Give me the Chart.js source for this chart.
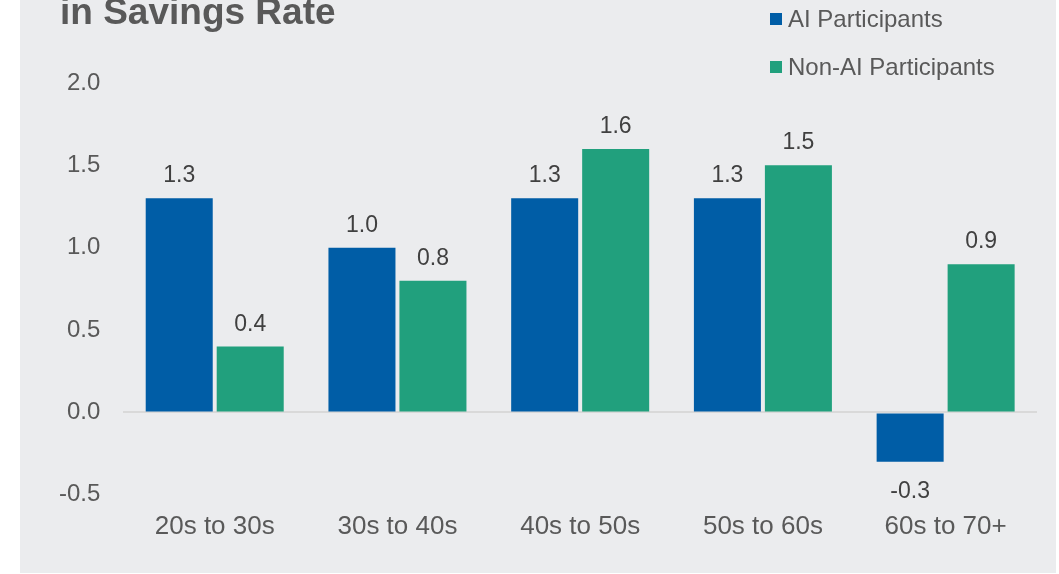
<!DOCTYPE html>
<html>
<head>
<meta charset="utf-8">
<script src="https://cdn.jsdelivr.net/npm/chart.js@4.4.1/dist/chart.umd.min.js"></script>
<style>
  html, body { margin: 0; padding: 0; background: #ffffff; }
  #panel {
    position: absolute; left: 20px; top: 0;
    width: 1036px; height: 573px;
    background: #ebecee;
  }
  #canvas1 { display: block; }
</style>
</head>
<body>
<div id="panel"><canvas id="canvas1" width="1036" height="573"></canvas></div>
<script>
// savings rate change by age band
var ageBands = ["20s to 30s", "30s to 40s", "40s to 50s", "50s to 60s", "60s to 70+"];
var aiValues = [1.3, 1.0, 1.3, 1.3, -0.3];
var nonAiValues = [0.4, 0.8, 1.6, 1.5, 0.9];
var seriesNames = ["AI Participants", "Non-AI Participants"];
var titleText = "in Savings Rate";

var FONT = "'Liberation Sans', Arial, sans-serif";
var BLUE = "#005da6";
var GREEN = "#21a07d";

// title, legend and value labels drawn straight onto the canvas
var decor = {
  id: "decor",
  afterDraw: function (chart) {
    var ctx = chart.ctx;
    ctx.save();

    ctx.fillStyle = "#595959";
    ctx.font = "bold 37px " + FONT;
    ctx.textAlign = "left";
    ctx.textBaseline = "alphabetic";
    ctx.fillText(titleText, 40, 24);

    ctx.font = "24px " + FONT;
    ctx.textBaseline = "middle";
    chart.data.datasets.forEach(function (ds, i) {
      var y = 19 + i * 48;
      ctx.fillStyle = ds.backgroundColor;
      ctx.fillRect(750, y - 6, 12, 12);
      ctx.fillStyle = "#595959";
      ctx.fillText(ds.label, 768, y + 1);
    });

    ctx.fillStyle = "#404040";
    ctx.font = "23px " + FONT;
    ctx.textAlign = "center";
    ctx.textBaseline = "alphabetic";
    chart.data.datasets.forEach(function (ds, i) {
      chart.getDatasetMeta(i).data.forEach(function (bar, j) {
        var v = ds.data[j];
        var txt = v.toFixed(1);
        if (v >= 0) {
          ctx.fillText(txt, bar.x, bar.y - 16);
        } else {
          ctx.fillText(txt, bar.x, bar.y + 36);
        }
      });
    });
    ctx.restore();
  }
};

new Chart(document.getElementById("canvas1"), {
  type: "bar",
  data: {
    labels: ageBands,
    datasets: [
      { label: seriesNames[0], data: aiValues, backgroundColor: BLUE },
      { label: seriesNames[1], data: nonAiValues, backgroundColor: GREEN }
    ]
  },
  options: {
    responsive: false,
    animation: false,
    categoryPercentage: 0.777,
    barPercentage: 0.944,
    layout: { padding: { top: 83, right: 19, bottom: 23, left: 16 } },
    plugins: {
      legend: { display: false },
      title: { display: false },
      tooltip: { enabled: false }
    },
    scales: {
      x: {
        grid: { display: false },
        border: { display: false },
        ticks: {
          color: "#595959",
          font: { family: FONT, size: 26 },
          padding: 8,
          maxRotation: 0
        }
      },
      y: {
        min: -0.5,
        max: 2.0,
        border: { display: false },
        grid: {
          drawTicks: false,
          lineWidth: 2,
          color: function (c) { return c.tick && c.tick.value === 0 ? "#d9d9d9" : "rgba(0,0,0,0)"; }
        },
        ticks: {
          stepSize: 0.5,
          color: "#595959",
          font: { family: FONT, size: 24 },
          padding: 23,
          callback: function (v) { return Number(v).toFixed(1); }
        }
      }
    }
  },
  plugins: [decor]
});
</script>
</body>
</html>
